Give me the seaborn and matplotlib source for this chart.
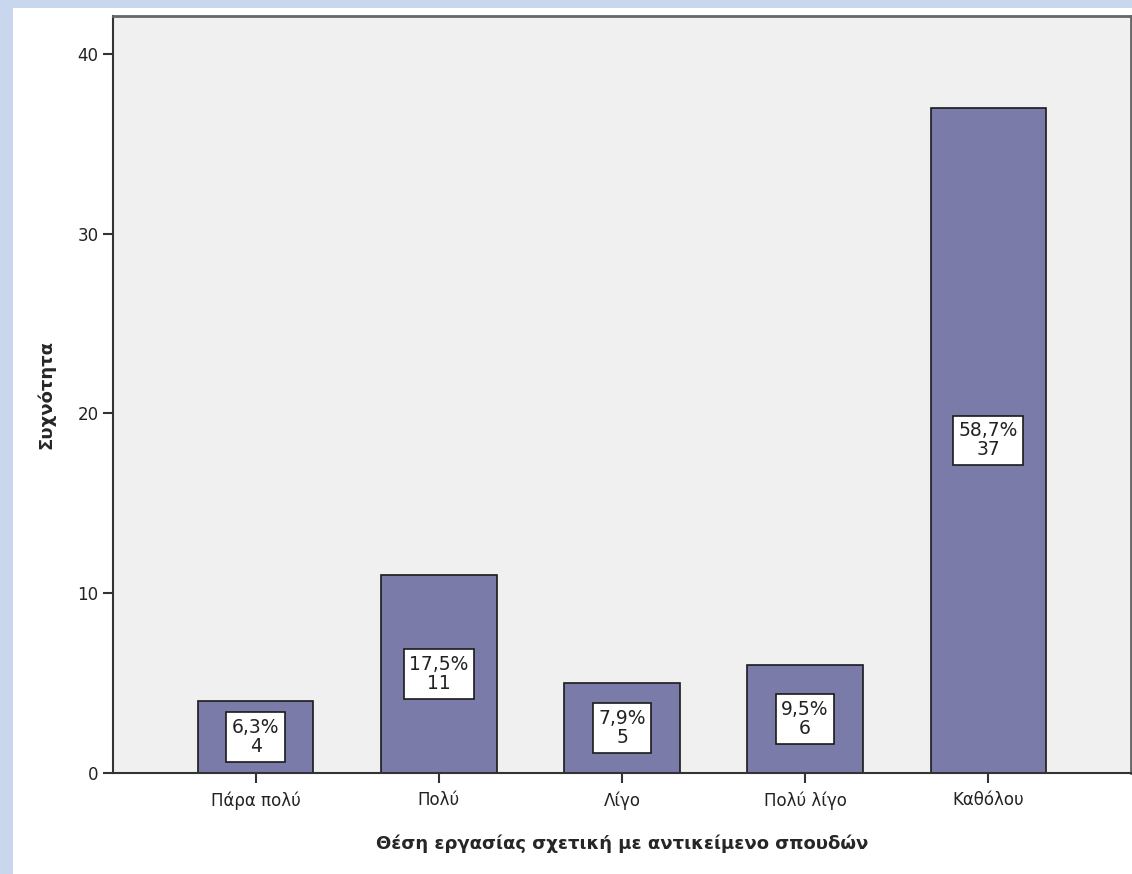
# Bar chart of job relevance to field of study (frequencies with percentages)
import pandas as pd
import seaborn as sns
import matplotlib.pyplot as plt
from matplotlib.patches import Rectangle

# Categories and counts
categories = ['Πάρα πολύ', 'Πολύ', 'Λίγο', 'Πολύ λίγο', 'Καθόλου']
counts = [4, 11, 5, 6, 37]
y_ticks = [0, 10, 20, 30, 40]

df = pd.DataFrame({'cat': categories, 'n': counts})
total = sum(counts)

sns.set_style('white')
plt.rcParams['font.family'] = ['DejaVu Sans']

fig = plt.figure(figsize=(11.32, 8.74), dpi=100)
fig.patch.set_facecolor('#C8D7EE')
# White canvas inside the light blue frame (drawn behind the axes)
fig.patches.append(Rectangle((13 / 1132, 0), 1, (874 - 8) / 874, transform=fig.transFigure,
                             facecolor='white', edgecolor='none', zorder=-10))

ax = fig.add_axes([113 / 1132, 101 / 874, (1131 - 113) / 1132, (773 - 16) / 874])
ax.set_facecolor('#F0F0F0')

sns.barplot(data=df, x='cat', y='n', color='#7B7BAA', saturation=1, width=0.63,
            edgecolor='#1a1a1a', linewidth=1.2, ax=ax)

ax.set_xlim(-0.78, 4.78)
ax.set_ylim(0, 42.1)
ax.set_yticks(y_ticks)
ax.set_yticklabels([str(t) for t in y_ticks])

# Boxed labels in the middle of each bar
for i, n in enumerate(counts):
    pct = f'{n / total * 100:.1f}'.replace('.', ',')
    ax.text(i, n / 2, f'{pct}%\n{n}', ha='center', va='center', fontsize=13.5,
            linespacing=1.0, color='#222222',
            bbox=dict(boxstyle='square,pad=0.3', facecolor='white', edgecolor='#1a1a1a', linewidth=1.2))

for side in ['left', 'bottom']:
    ax.spines[side].set_color('#333333')
    ax.spines[side].set_linewidth(1.5)
for side in ['top', 'right']:
    ax.spines[side].set_color('#666666')
    ax.spines[side].set_linewidth(2)

ax.tick_params(axis='both', which='major', length=7, width=1.5, color='#333333',
               labelsize=12, labelcolor='#222222', direction='out', left=True, bottom=True)
ax.tick_params(axis='x', pad=6)

ax.set_xlabel('Θέση εργασίας σχετική με αντικείμενο σπουδών', fontsize=13,
              fontweight='bold', labelpad=18)
ax.set_ylabel('Συχνότητα', fontsize=13, fontweight='bold', labelpad=16)

fig.savefig('out.png', dpi=100)
